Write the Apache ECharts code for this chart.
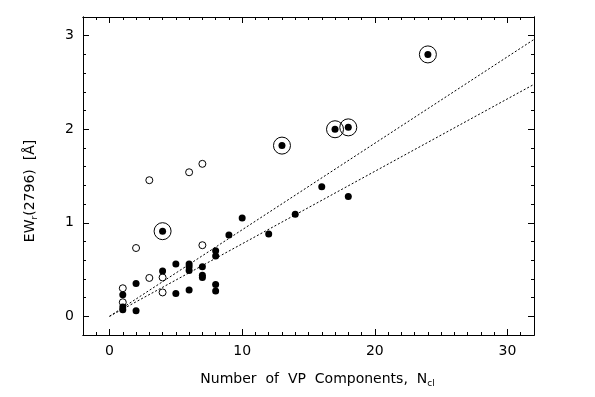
<!DOCTYPE html>
<html>
<head>
<meta charset="utf-8">
<script src="https://cdn.jsdelivr.net/npm/echarts@6/dist/echarts.min.js"></script>
<style>
  html, body { margin: 0; padding: 0; background: #fff; }
  #chart { width: 595px; height: 397px; }
</style>
</head>
<body>
<div id="chart"></div>
<script>
// filled points (number of components, EW)
const filledX = [1, 1, 1, 2, 2, 4, 4, 5, 5, 6, 6, 6, 6, 7, 7, 7, 8, 8, 8, 8, 9, 10, 12, 13, 14, 16, 17, 18, 18, 24];
const filledY = [0.23, 0.10, 0.07, 0.35, 0.06, 0.91, 0.485, 0.56, 0.245, 0.56, 0.53, 0.49, 0.28, 0.53, 0.44, 0.415, 0.70, 0.645, 0.34, 0.27, 0.87, 1.05, 0.88, 1.825, 1.09, 1.385, 2.00, 2.02, 1.28, 2.80];
// open points
const openX = [1, 1, 2, 3, 3, 4, 4, 6, 7, 7];
const openY = [0.30, 0.15, 0.73, 1.455, 0.41, 0.415, 0.255, 1.54, 1.63, 0.76];
// circled points
const ringX = [4, 13, 17, 18, 24];
const ringY = [0.91, 1.825, 2.00, 2.02, 2.80];
// fit lines
const fitX = [0, 32];
const fitUpperY = [0, 2.96];
const fitLowerY = [0, 2.48];

const xMajor = [0, 10, 20, 30];
const yMajor = [0, 1, 2, 3];

const zip = (xs, ys) => xs.map((x, i) => [x, ys[i]]);

const font = 'DejaVu Sans';
const chart = echarts.init(document.getElementById('chart'), null, { renderer: 'canvas' });

function xAxisDef(pos, major, withLabel) {
  const a = {
    type: 'value', position: pos, min: -2, max: 32,
    splitLine: { show: false },
    axisLine: { show: true, onZero: false, lineStyle: { color: '#000', width: 1 } },
    axisTick: { show: true, inside: true, length: major ? 6 : 3, lineStyle: { color: '#000' } },
    axisLabel: { show: false }
  };
  if (major) {
    a.axisTick.customValues = xMajor;
    a.axisLabel = withLabel
      ? { show: true, customValues: xMajor, color: '#000', fontFamily: font, fontSize: 14, margin: 9 }
      : { show: false };
  } else {
    a.interval = 1;
  }
  if (withLabel) {
    a.name = 'Number  of  VP  Components,  N{s|cl}';
    a.nameLocation = 'middle';
    a.nameGap = 36;
    a.nameTextStyle = { color: '#000', fontFamily: font, fontSize: 14, padding: [0, 0, 0, 18],
      rich: { s: { fontFamily: font, fontSize: 9, verticalAlign: 'bottom', padding: [8, 0, 0, 0] } } };
  }
  return a;
}

function yAxisDef(pos, major, withLabel) {
  const a = {
    type: 'value', position: pos, min: -0.2, max: 3.2,
    splitLine: { show: false },
    axisLine: { show: true, onZero: false, lineStyle: { color: '#000', width: 1 } },
    axisTick: { show: true, inside: true, length: major ? 6 : 3, lineStyle: { color: '#000' } },
    axisLabel: { show: false }
  };
  if (major) {
    a.axisTick.customValues = yMajor;
    a.axisLabel = withLabel
      ? { show: true, customValues: yMajor, color: '#000', fontFamily: font, fontSize: 14, margin: 9 }
      : { show: false };
  } else {
    a.interval = 0.2;
  }
  if (withLabel) {
    a.name = 'EW{s|r}(2796)  [Å]';
    a.nameLocation = 'middle';
    a.nameGap = 44;
    a.nameTextStyle = { color: '#000', fontFamily: font, fontSize: 14, padding: [0, 30, 0, 0],
      rich: { s: { fontFamily: font, fontSize: 9, padding: [8, 0, 0, 0] } } };
  }
  return a;
}

const option = {
  animation: false,
  backgroundColor: '#fff',
  grid: { left: 83, right: 61, top: 17, bottom: 62 },
  xAxis: [
    xAxisDef('bottom', true, true),
    xAxisDef('bottom', false, false),
    xAxisDef('top', true, false),
    xAxisDef('top', false, false)
  ],
  yAxis: [
    yAxisDef('left', true, true),
    yAxisDef('left', false, false),
    yAxisDef('right', true, false),
    yAxisDef('right', false, false)
  ],
  series: [
    {
      type: 'line', data: zip(fitX, fitUpperY), symbol: 'none',
      lineStyle: { color: '#000', width: 1, type: [2, 2] }
    },
    {
      type: 'line', data: zip(fitX, fitLowerY), symbol: 'none',
      lineStyle: { color: '#000', width: 1, type: [2, 2] }
    },
    {
      type: 'scatter', data: zip(ringX, ringY), symbol: 'circle', symbolSize: 17,
      itemStyle: { color: 'rgba(0,0,0,0)', borderColor: '#000', borderWidth: 1, opacity: 1 }
    },
    {
      type: 'scatter', data: zip(openX, openY), symbol: 'circle', symbolSize: 7,
      itemStyle: { color: '#fff', borderColor: '#000', borderWidth: 1, opacity: 1 }
    },
    {
      type: 'scatter', data: zip(filledX, filledY), symbol: 'circle', symbolSize: 7,
      itemStyle: { color: '#000', opacity: 1 }
    }
  ]
};

chart.setOption(option);
</script>
</body>
</html>
